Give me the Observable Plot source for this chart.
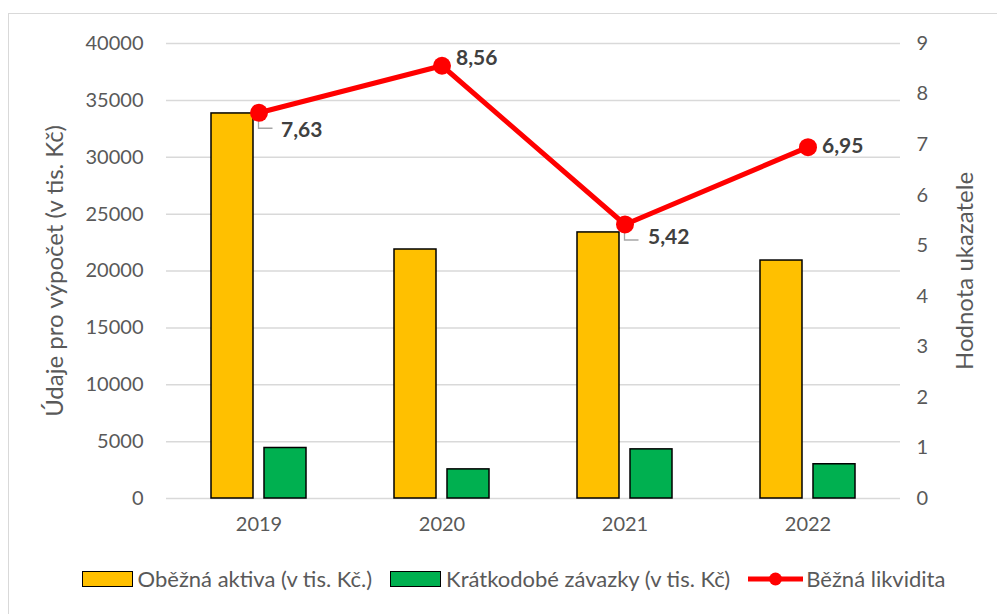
<!DOCTYPE html>
<html>
<head>
<meta charset="utf-8">
<script src="https://cdn.jsdelivr.net/npm/d3@7"></script>
<script src="https://cdn.jsdelivr.net/npm/@observablehq/plot@0.6"></script>
<style>
  html, body { margin: 0; padding: 0; background: #fff; overflow: hidden; }
  body { width: 997px; height: 614px; position: relative; font-family: Lato, "Noto Sans", sans-serif; }
  #frame { position: absolute; left: 8px; top: 13px; width: 1100px; height: 700px; border: 1.5px solid #D9D9D9; box-sizing: border-box; }
  #chart { position: absolute; left: 0; top: 0; }
  #legend { position: absolute; left: 15px; top: 565px; width: 997px; display: flex; justify-content: center; align-items: center; gap: 0; font-size: 22px; color: #595959; }
  .item { display: flex; align-items: center; margin: 0 9px; }
  .sw { width: 49px; height: 14px; border: 1.5px solid #000; margin-right: 5px; }
  .ln { width: 55px; height: 16px; margin-right: 3px; }
</style>
</head>
<body>
<div id="frame"></div>
<div id="chart"></div>
<div id="legend"></div>
<script>
const years = ["2019", "2020", "2021", "2022"];
const obeznaAktiva = [33850, 21890, 23390, 20920];
const kratkodobeZavazky = [4440, 2560, 4320, 3010];
const beznaLikvidita = [7.63, 8.56, 5.42, 6.95];
const leftTicks = [0, 5000, 10000, 15000, 20000, 25000, 30000, 35000, 40000];
const rightTicks = [0, 1, 2, 3, 4, 5, 6, 7, 8, 9];
const seriesNames = ["Oběžná aktiva (v tis. Kč.)", "Krátkodobé závazky (v tis. Kč)", "Běžná likvidita"];
const leftTitle = "Údaje pro výpočet (v tis. Kč)";
const rightTitle = "Hodnota ukazatele";

const colors = { orange: "#FFC000", green: "#00B050", red: "#FF0000" };
const yMax = 40000, y2Max = 9;
const toY = v => v * yMax / y2Max;
const fmtComma = v => v.toFixed(2).replace(".", ",");

const data = years.map((year, i) => ({
  year,
  obezna: obeznaAktiva[i],
  kratko: kratkodobeZavazky[i],
  lik: beznaLikvidita[i]
}));

// label offsets (style only)
const labelDx = [22, 14, 23, 14];
const labelDy = [18, -7, 13, -1];
const hasLeader = [true, false, true, false];

function leaders(index, scales) {
  const g = d3.create("svg:g").attr("fill", "none").attr("stroke", "#A6A6A6").attr("stroke-width", 1.3);
  const bw = scales.x.bandwidth ? scales.x.bandwidth() : (scales.x.bandwidth || 0);
  data.forEach((d, i) => {
    if (!hasLeader[i]) return;
    const x = scales.x(d.year) + (typeof bw === "number" ? bw / 2 : 0);
    const y = scales.y(toY(d.lik));
    g.append("path").attr("d", `M${x},${y + 1}V${y + 16}H${x + 14}`);
  });
  return g.node();
}

const chart = Plot.plot({
  width: 997,
  height: 545,
  marginTop: 43,
  marginBottom: 47,
  marginLeft: 166,
  marginRight: 97,
  style: { fontFamily: "Lato, 'Noto Sans', sans-serif", fontSize: "20px", color: "#595959", background: "transparent" },
  x: { domain: years, paddingInner: 0.482, paddingOuter: 0.241, label: null },
  y: { domain: [0, yMax], label: null },
  marks: [
    Plot.gridY(leftTicks, { stroke: "#D9D9D9", strokeOpacity: 1, strokeWidth: 1.5 }),
    Plot.axisY(leftTicks, {
      anchor: "left", tickSize: 0, tickPadding: 23, tickFormat: d3.format("d"), label: null
    }),
    Plot.axisY({
      anchor: "left", ticks: [], tickSize: 0,
      label: leftTitle, labelAnchor: "center", labelArrow: "none", labelOffset: 121, fontSize: 24
    }),
    Plot.axisY(rightTicks.map(toY), {
      anchor: "right", tickSize: 0, tickPadding: 16, tickFormat: d => String(Math.round(d * y2Max / yMax)), label: null
    }),
    Plot.axisY({
      anchor: "right", ticks: [], tickSize: 0,
      label: rightTitle, labelAnchor: "center", labelArrow: "none", labelOffset: 72, fontSize: 24
    }),
    Plot.axisX({ tickSize: 0, tickPadding: 18, label: null }),
    Plot.barY(data, { x: "year", y: "obezna", fill: colors.orange, stroke: "#000", strokeWidth: 1.5, insetRight: 53 }),
    Plot.barY(data, { x: "year", y: "kratko", fill: colors.green, stroke: "#000", strokeWidth: 1.5, insetLeft: 53 }),
    leaders,
    Plot.line(data, { x: "year", y: d => toY(d.lik), stroke: colors.red, strokeWidth: 5, strokeLinejoin: "round" }),
    Plot.dot(data, { x: "year", y: d => toY(d.lik), r: 9, fill: colors.red }),
    ...data.map((d, i) => Plot.text([d], {
      x: "year", y: dd => toY(dd.lik), text: dd => fmtComma(dd.lik),
      dx: labelDx[i], dy: labelDy[i], textAnchor: "start",
      fill: "#404040", fontWeight: "bold", fontSize: 21
    }))
  ]
});
document.getElementById("chart").appendChild(chart);

// legend
const legend = document.getElementById("legend");
const swatchColors = [colors.orange, colors.green];
seriesNames.forEach((name, i) => {
  const item = document.createElement("div");
  item.className = "item";
  if (i < 2) {
    const sw = document.createElement("div");
    sw.className = "sw";
    sw.style.background = swatchColors[i];
    item.appendChild(sw);
  } else {
    const ns = "http://www.w3.org/2000/svg";
    const svg = document.createElementNS(ns, "svg");
    svg.setAttribute("width", 55); svg.setAttribute("height", 16);
    svg.setAttribute("class", "ln");
    const l = document.createElementNS(ns, "line");
    l.setAttribute("x1", 0); l.setAttribute("x2", 55); l.setAttribute("y1", 8); l.setAttribute("y2", 8);
    l.setAttribute("stroke", colors.red); l.setAttribute("stroke-width", 5);
    const c = document.createElementNS(ns, "circle");
    c.setAttribute("cx", 27.5); c.setAttribute("cy", 8); c.setAttribute("r", 6.5); c.setAttribute("fill", colors.red);
    svg.appendChild(l); svg.appendChild(c);
    item.appendChild(svg);
  }
  const t = document.createElement("span");
  t.textContent = name;
  item.appendChild(t);
  legend.appendChild(item);
});
</script>
</body>
</html>
